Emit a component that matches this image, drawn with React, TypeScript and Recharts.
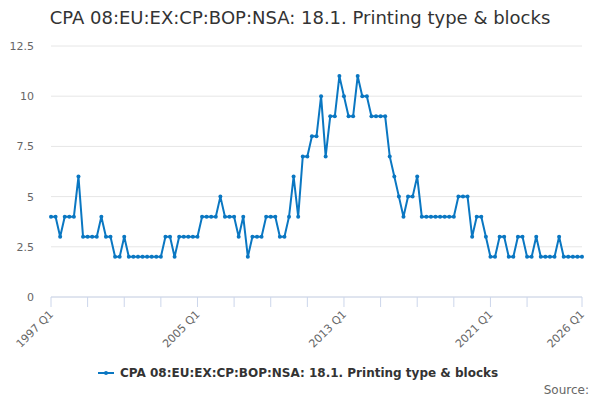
import { LineChart, Line, XAxis, YAxis, CartesianGrid } from "recharts";

const title = "CPA 08:EU:EX:CP:BOP:NSA: 18.1. Printing type & blocks";

const firstYear = 1997;
const lastYear = 2026;

// quarterly values 1997 Q1 .. 2026 Q1
const values = [
  4, 4, 3, 4, 4, 4, 6,
  3, 3, 3, 3, 4, 3, 3,
  2, 2, 3, 2, 2, 2, 2, 2, 2, 2, 2,
  3, 3, 2, 3, 3, 3, 3, 3,
  4, 4, 4, 4, 5, 4, 4, 4,
  3, 4, 2, 3, 3, 3, 4, 4, 4,
  3, 3, 4, 6, 4,
  7, 7, 8, 8, 10, 7, 9, 9,
  11, 10, 9, 9, 11, 10, 10, 9, 9, 9, 9,
  7, 6, 5, 4, 5, 5, 6, 4, 4,
  4, 4, 4, 4, 4, 4, 5, 5, 5,
  3, 4, 4, 3, 2, 2, 3, 3,
  2, 2, 3, 3, 2, 2, 3, 2, 2, 2, 2, 3, 2, 2, 2, 2, 2,
];

const quarters: string[] = [];
for (let y = firstYear; y <= lastYear; y++) {
  for (let q = 1; q <= 4; q++) {
    if (y === lastYear && q > 1) break;
    quarters.push(`${y} Q${q}`);
  }
}

const tickQuarters = [
  "1997 Q1", "1999 Q1", "2001 Q1", "2003 Q1", "2005 Q1", "2007 Q1", "2009 Q1",
  "2011 Q1", "2013 Q1", "2015 Q1", "2017 Q1", "2019 Q1", "2021 Q1", "2023 Q1", "2026 Q1",
];
const labelledQuarters = ["1997 Q1", "2005 Q1", "2013 Q1", "2021 Q1", "2026 Q1"];
const yTicks = [0, 2.5, 5, 7.5, 10, 12.5];

const data = quarters.map((quarter, i) => ({ quarter, value: values[i] }));

const FONT = "DejaVu Sans, sans-serif";
const COLOR = "#0a77c2";

function XTick({ x, y, payload }: any) {
  if (!labelledQuarters.includes(payload.value)) return null;
  return (
    <g transform={`translate(${x + 3},${y + 6})`}>
      <text
        x={0}
        y={0}
        textAnchor="end"
        transform="rotate(-45)"
        fill="#666666"
        fontSize={11}
        fontFamily={FONT}
      >
        {payload.value}
      </text>
    </g>
  );
}

export default function App() {
  return (
    <div style={{ position: "absolute", left: 0, top: 0, width: 600, height: 400, background: "#fff", fontFamily: FONT }}>
      <div
        style={{
          position: "absolute",
          top: 7,
          left: 0,
          width: 600,
          textAlign: "center",
          fontSize: 18,
          color: "#333333",
        }}
      >
        {title}
      </div>
      <LineChart width={600} height={400} data={data} margin={{ top: 46, right: 18, bottom: 0, left: 0 }}>
        <CartesianGrid vertical={false} stroke="#e6e6e6" />
        <XAxis
          dataKey="quarter"
          ticks={tickQuarters}
          interval={0}
          tick={<XTick />}
          tickSize={10}
          stroke="#ccd6eb"
          tickLine={{ stroke: "#ccd6eb" }}
          height={103}
        />
        <YAxis
          domain={[0, 12.5]}
          ticks={yTicks}
          width={51}
          axisLine={false}
          tickLine={false}
          tickSize={0}
          tickMargin={17}
          tick={{ fill: "#666666", fontSize: 11, fontFamily: FONT }}
        />
        <Line
          dataKey="value"
          stroke={COLOR}
          strokeWidth={2}
          dot={{ r: 2, fill: COLOR, stroke: COLOR, strokeWidth: 0 }}
          isAnimationActive={false}
        />
      </LineChart>
      <div
        style={{
          position: "absolute",
          top: 366,
          left: 98,
          display: "flex",
          alignItems: "center",
          fontSize: 12,
          fontWeight: "bold",
          color: "#333333",
        }}
      >
        <svg width={16} height={10} style={{ marginRight: 6 }}>
          <line x1={0} y1={5} x2={16} y2={5} stroke={COLOR} strokeWidth={2} />
          <circle cx={8} cy={5} r={2} fill={COLOR} />
        </svg>
        <span>{title}</span>
      </div>
      <div style={{ position: "absolute", top: 383, right: 11, fontSize: 12, color: "#666666" }}>Source:</div>
    </div>
  );
}
